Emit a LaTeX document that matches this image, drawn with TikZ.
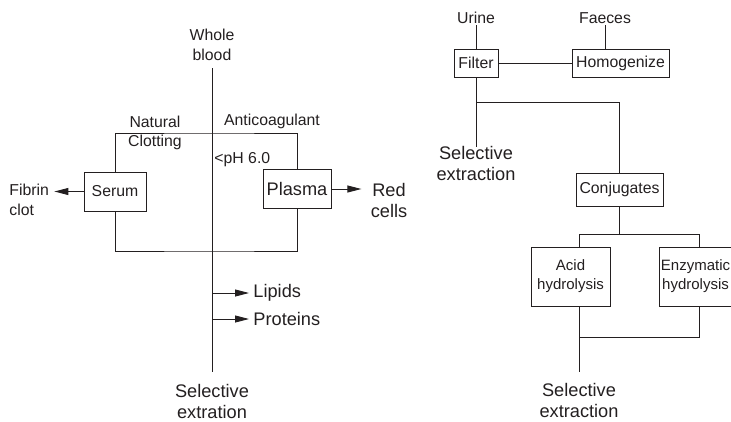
\documentclass[tikz,border=0pt]{standalone}
\usepackage{fontspec}
\setmainfont{Liberation Sans}
\usetikzlibrary{calc}
\usetikzlibrary{arrows.meta}
\definecolor{ink}{RGB}{35,31,32}
\tikzset{
 box/.style={draw=ink, line width=.9pt, inner sep=0pt, align=center, text=ink},
 lbl/.style={align=center, text=ink, inner sep=1pt},
 small/.style={font=\fontsize{15.8}{19.5}\selectfont},
 tiny/.style={font=\fontsize{15}{19}\selectfont},
 big/.style={font=\fontsize{18.2}{21}\selectfont},
 tip/.style={-{Triangle[length=14pt,width=7pt]}}
}

\begin{document}
\begin{tikzpicture}[x=1pt,y=-1pt,line width=.9pt,draw=ink]
\useasboundingbox (0,0) rectangle (731,421);
% whole blood
\node[lbl,small] (whole) at (212,45) {Whole\\blood};
\coordinate (wtop) at (212,68);
\coordinate (split) at (212,133);
\coordinate (join) at (212,251);
\node[box,small,minimum width=62pt,minimum height=39pt] (serum) at (115,191.5) {Serum};
\node[box,big,minimum width=68pt,minimum height=39pt] (plasma) at (297,189) {Plasma};
\node[lbl,small,align=left,anchor=west] (fibrin) at (8,200) {Fibrin\\clot};
\node[lbl,big] (redcells) at (389,200) {Red\\cells};
\node[lbl,small] (natural) at (155,133) {Natural\\Clotting};
\node[lbl,small] (anti) at (272,121) {Anticoagulant};
\node[lbl,small,anchor=west] (ph) at (213,160) {<pH 6.0};
\node[lbl,big] (selA) at (212,401) {Selective\\extration};
\draw (wtop) -- ($(selA.north)+(0,-10)$);
\draw (serum.north) |- (split) -| (plasma.north);
\draw (serum.south) |- (join) -| (plasma.south);
\draw[tip,shorten >=4pt] (serum.west) -- (serum.west -| fibrin.east);
\draw[tip,shorten >=8pt] (plasma.east) -- (plasma.east -| redcells.west);
\foreach \y/\name/\txt in {293/lip/Lipids,319/prot/Proteins}{
 \node[lbl,big,anchor=west] (\name) at (252,\y) {\txt};
 \draw[tip,shorten >=3pt] (wtop |- \name.west) -- (\name.west);
}
% urine and faeces
\node[lbl,small] (urine) at (476,18) {Urine};
\node[lbl,small] (faeces) at (605,18) {Faeces};
\node[box,small,minimum width=44pt,minimum height=28pt] (filter) at (476,63) {Filter};
\node[box,small,minimum width=97pt,minimum height=28pt] (homog) at (620.5,63) {Homogenize};
\node[lbl,big] (selB) at (476,163) {Selective\\extraction};
\node[box,small,minimum width=87pt,minimum height=33pt] (conj) at (619.5,189.5) {Conjugates};
\node[box,tiny,minimum width=79pt,minimum height=59pt] (acid) at (570.5,276.5) {Acid\\hydrolysis};
\node[box,tiny,minimum width=73pt,minimum height=59pt] (enz) at (695.5,276.5) {Enzymatic\\hydrolysis};
\node[lbl,big] (selC) at (579,400) {Selective\\extraction};
\coordinate (fsplit) at (476,102);
\coordinate (hyd) at (579,234);
\coordinate (enzx) at (699,234);
\coordinate (merge) at (699,337);
\draw (urine.south) -- (urine.south |- filter.north);
\draw (faeces.south) -- (faeces.south |- homog.north);
\draw (filter) -- (homog);
\draw (filter.south) -- ($(selB.north)+(0,3)$);
\draw (fsplit) -| (conj.north);
\draw (conj.south) -- (conj.south |- hyd);
\draw (hyd |- acid.north) -- (hyd) -- (enzx) -- (enzx |- enz.north);
\draw (hyd |- acid.south) -- ($(selC.north)+(0,-9)$);
\draw (merge |- enz.south) -- (merge) -- (merge -| selC.north);
\end{tikzpicture}
\end{document}
